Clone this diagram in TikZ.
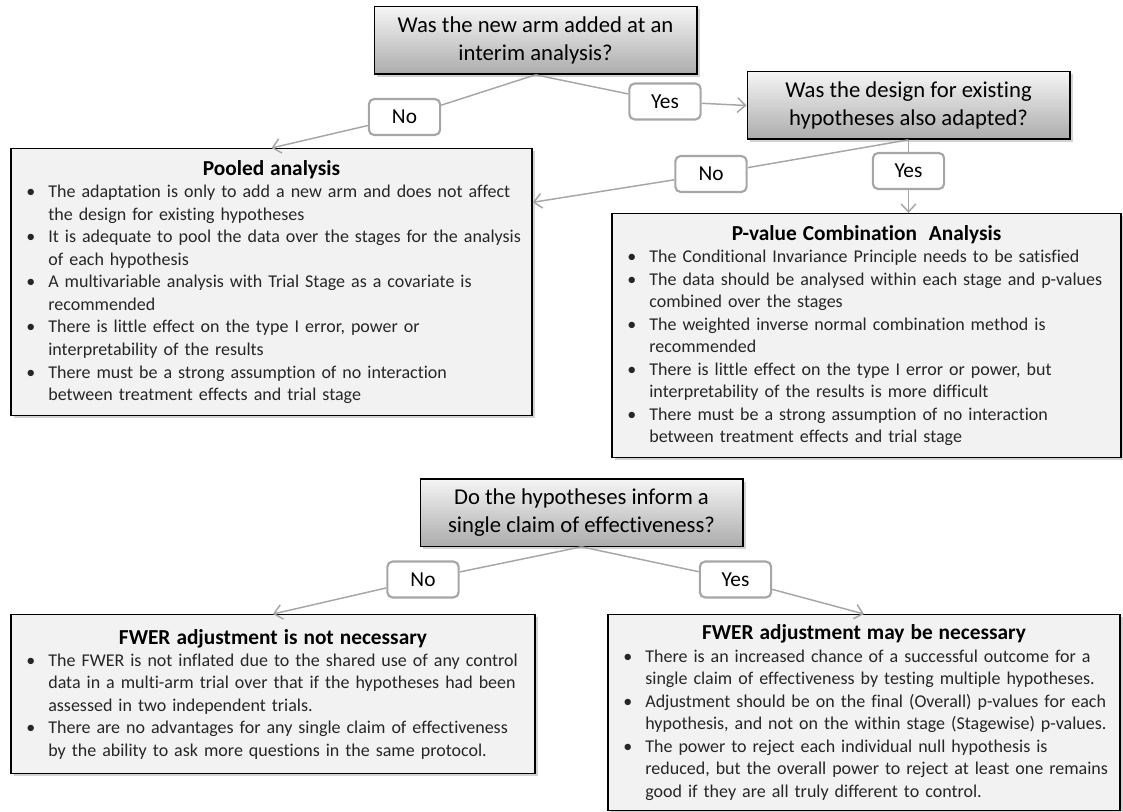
\documentclass[tikz,border=0pt]{standalone}
\usepackage{fontspec}
\setmainfont{Carlito}[Ligatures=NoCommon]
\usetikzlibrary{arrows.meta,shadows}
\newcommand{\bitem}[1]{\par\hangindent=23pt\hangafter=1\noindent\makebox[23pt][l]{\hspace{6.5pt}\textbullet}#1\par}
\newcommand{\btitle}[1]{\lineskiplimit=-3pt\relax\hyphenpenalty=10000\relax\centerline{\color{black}\bfseries\fontsize{16}{19}\selectfont #1}\vspace{-0.3pt}}
\begin{document}
\begin{tikzpicture}[x=0.75pt, y=-0.75pt,
   question/.style={draw, line width=1pt, top color=gray!8, bottom color=gray!65, minimum width=242pt, minimum height=50.5pt, align=center, font=\fontsize{17}{20.5}\selectfont, drop shadow={shadow xshift=2pt, shadow yshift=-2pt, opacity=0.35}},
   answer/.style={draw=gray!70, line width=1.6pt, rounded corners=4pt, fill=white, minimum width=53.5pt, minimum height=27pt, font=\fontsize{16}{19}\selectfont},
   result/.style={draw, line width=1pt, fill=gray!10, text=black!85, anchor=north, inner xsep=5pt, align=left, font=\fontsize{13.5}{16.9}\selectfont, drop shadow={shadow xshift=2pt, shadow yshift=-2pt, opacity=0.35}},
   conn/.style={draw=gray!70, line width=1.1pt, -{Straight Barb[length=6pt,width=11pt]}}]
   \useasboundingbox (0,0) rectangle (1123,812);
   \node (Q1) [question] at (535.5,40.5) {Was the new arm added at an\\interim analysis?};
   \node (Q2) [question] at (908.5,105.5) {Was the design for existing\\hypotheses also adapted?};
   \node (Q3) [question] at (581.5,512.5) {Do the hypotheses inform a\\single claim of effectiveness?};
   \node (N1) [answer] at (404.5,117) {No};
   \node (Y1) [answer] at (665,101.5) {Yes};
   \node (N2) [answer] at (711,174) {No};
   \node (Y2) [answer] at (908.5,171) {Yes};
   \node (N3) [answer] at (423,579.5) {No};
   \node (Y3) [answer] at (735.5,579.5) {Yes};
   \node (Pool) [result, text width=380.75pt, minimum height=200.25pt] at (271.5,148) {\btitle{Pooled analysis}
      \bitem{The adaptation is only to add a new arm and does not affect\newline the design for existing hypotheses}
      \bitem{It is adequate to pool the data over the stages for the analysis\newline of each hypothesis}
      \bitem{A multivariable analysis with Trial Stage as a covariate is\newline recommended}
      \bitem{There is little effect on the type I error, power or\newline interpretability of the results}
      \bitem{There must be a strong assumption of no interaction\newline between treatment effects and trial stage}};
   \node (Comb) [result, text width=371.75pt, minimum height=183pt] at (866.5,213) {\btitle{P-value Combination\ \ Analysis}
      \bitem{The Conditional Invariance Principle needs to be satisfied}
      \bitem{The data should be analysed within each stage and p-values\newline combined over the stages}
      \bitem{The weighted inverse normal combination method is\newline recommended}
      \bitem{There is little effect on the type I error or power, but\newline interpretability of the results is more difficult}
      \bitem{There must be a strong assumption of no interaction\newline between treatment effects and trial stage}};
   \node (NoAdj) [result, text width=383pt, minimum height=119.25pt] at (273,614) {\btitle{FWER adjustment is not necessary}
      \bitem{The FWER is not inflated due to the shared use of any control\newline data in a multi-arm trial over that if the hypotheses had been\newline assessed in two independent trials.}
      \bitem{There are no advantages for any single claim of effectiveness\newline by the ability to ask more questions in the same protocol.}};
   \node (Adj) [result, text width=374pt, minimum height=147pt] at (864,614) {\btitle{FWER adjustment may be necessary}
      \bitem{There is an increased chance of a successful outcome for a\newline single claim of effectiveness by testing multiple hypotheses.}
      \bitem{Adjustment should be on the final (Overall) p-values for each\newline hypothesis, and not on the within stage (Stagewise) p-values.}
      \bitem{The power to reject each individual null hypothesis is\newline reduced, but the overall power to reject at least one remains\newline good if they are all truly different to control.}};
   \draw[conn] (Q1.south) -- (N1) -- (Pool.north);
   \draw[conn] (Q1.south) -- (Y1) -- (Q2.west);
   \draw[conn] (Q2.south) -- (N2) -- (Pool.17);
   \draw[conn] (Q2.south) -- (Y2) -- (Y2 |- Comb.north);
   \draw[conn] (Q3.south) -- (N3) -- (NoAdj.north);
   \draw[conn] (Q3.south) -- (Y3) -- (Adj.north);
\end{tikzpicture}
\end{document}
